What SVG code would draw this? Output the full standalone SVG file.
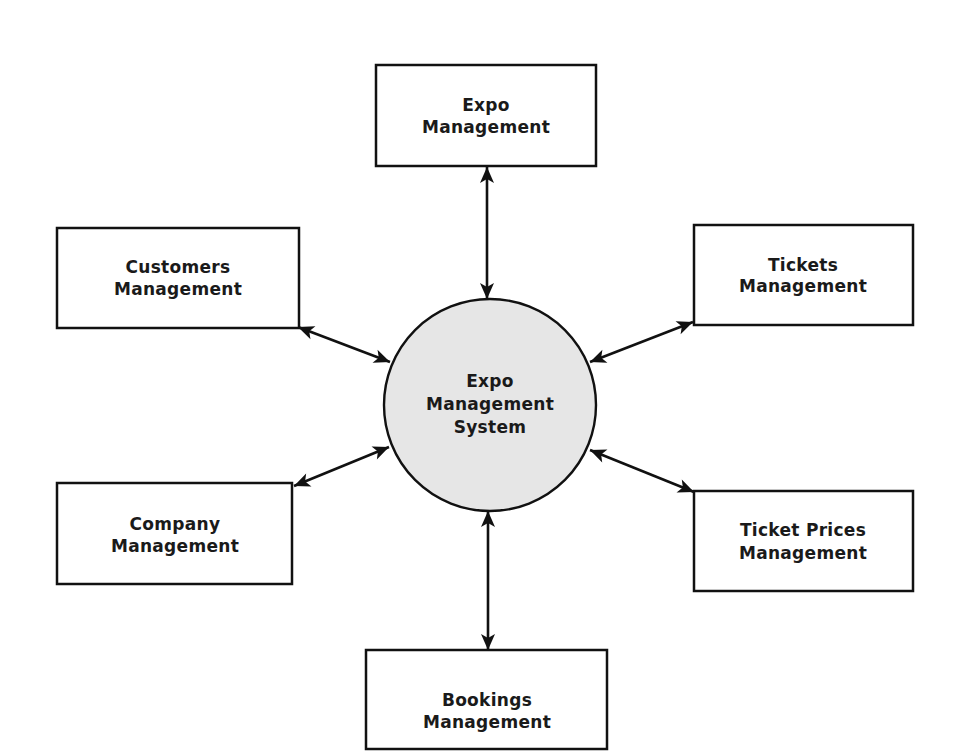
<svg xmlns="http://www.w3.org/2000/svg" width="961" height="751" viewBox="0 0 961 751">
<style>
.box{fill:#ffffff;stroke:#111111;stroke-width:2.5}
.proc{fill:#e6e6e6;stroke:#111111;stroke-width:2.4}
.lbl{font-family:"DejaVu Sans",sans-serif;font-weight:bold;font-size:17px;letter-spacing:0.3px;fill:#1a1a1a;text-anchor:middle}
.con{stroke:#111111;stroke-width:2.6;fill:none;marker-start:url(#ah);marker-end:url(#ah)}
</style>
<defs>
<marker id="ah" markerUnits="userSpaceOnUse" viewBox="-18 -9 20 18" refX="0" refY="0" markerWidth="20" markerHeight="18" orient="auto-start-reverse">
<path d="M0,0 L-16,-7 L-12,0 L-16,7 Z" fill="#111111"/>
</marker>
</defs>
<rect width="961" height="751" fill="#ffffff"/>
<g id="connectors">
<line class="con" x1="487" y1="167" x2="487" y2="299"/>
<line class="con" x1="298" y1="327" x2="390" y2="362"/>
<line class="con" x1="693" y1="322" x2="590" y2="362"/>
<line class="con" x1="294" y1="486" x2="389" y2="447"/>
<line class="con" x1="590" y1="450" x2="694" y2="492"/>
<line class="con" x1="488" y1="511" x2="488" y2="650"/>
</g>
<g id="system">
<circle class="proc" cx="490" cy="405" r="106"/>
<text class="lbl" x="490" y="387">Expo</text>
<text class="lbl" x="490" y="410">Management</text>
<text class="lbl" x="490" y="433">System</text>
</g>
<g id="expo">
<rect class="box" x="376" y="65" width="220" height="101"/>
<text class="lbl" x="486" y="111">Expo</text>
<text class="lbl" x="486" y="133">Management</text>
</g>
<g id="customers">
<rect class="box" x="57" y="228" width="242" height="100"/>
<text class="lbl" x="178" y="273">Customers</text>
<text class="lbl" x="178" y="295">Management</text>
</g>
<g id="tickets">
<rect class="box" x="694" y="225" width="219" height="100"/>
<text class="lbl" x="803" y="271">Tickets</text>
<text class="lbl" x="803" y="292">Management</text>
</g>
<g id="company">
<rect class="box" x="57" y="483" width="235" height="101"/>
<text class="lbl" x="175" y="530">Company</text>
<text class="lbl" x="175" y="552">Management</text>
</g>
<g id="ticketprices">
<rect class="box" x="694" y="491" width="219" height="100"/>
<text class="lbl" x="803" y="536">Ticket Prices</text>
<text class="lbl" x="803" y="559">Management</text>
</g>
<g id="bookings">
<rect class="box" x="366" y="650" width="241" height="99"/>
<text class="lbl" x="487" y="706">Bookings</text>
<text class="lbl" x="487" y="728">Management</text>
</g>
</svg>
